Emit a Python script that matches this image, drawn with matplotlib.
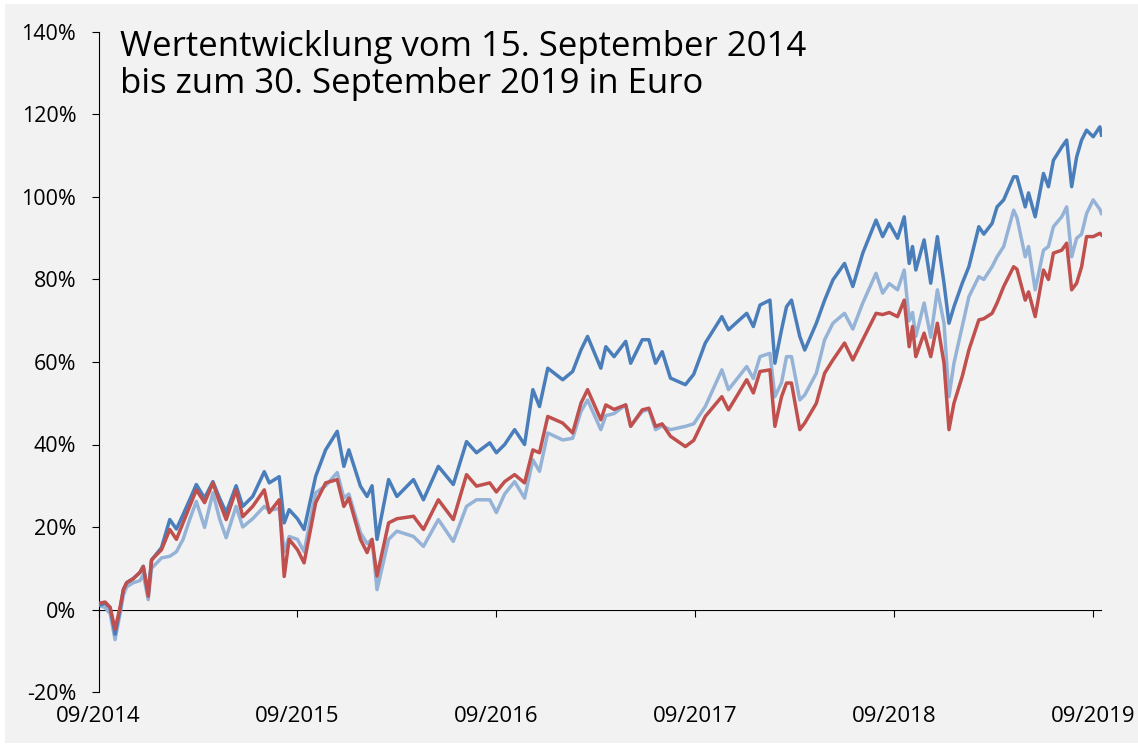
import numpy as np
import matplotlib
matplotlib.use("Agg")
import matplotlib.pyplot as plt
import matplotlib.ticker as mtick
from matplotlib.patches import Rectangle

# months since 15 Sep 2014
months = [0, 0.4, 0.7, 1.0, 1.3, 1.5, 1.7, 2.1, 2.5, 2.7, 3.0, 3.2, 3.8, 4.3, 4.7, 5.1, 5.5, 5.9, 6.4, 6.9,
          7.3, 7.7, 8.3, 8.7, 9.3, 10.0, 10.3, 10.9, 11.2, 11.5, 12.0, 12.4, 13.1, 13.7, 14.4, 14.8, 15.1, 15.8, 16.2, 16.5,
          16.8, 17.5, 18.0, 19.0, 19.6, 20.5, 21.4, 22.2, 22.8, 23.6, 24.0, 24.5, 25.1, 25.7, 26.2, 26.6, 27.1, 28.0, 28.6, 29.1,
          29.5, 30.3, 30.6, 31.1, 31.8, 32.1, 32.8, 33.2, 33.6, 34.0, 34.5, 35.4, 35.9, 36.6, 37.6, 38.0, 39.1, 39.5, 39.9, 40.5,
          40.8, 41.2, 41.5, 41.8, 42.3, 42.6, 43.3, 43.8, 44.3, 45.0, 45.5, 46.1, 46.9, 47.3, 47.7, 48.2, 48.6, 48.9, 49.1, 49.3,
          49.8, 50.2, 50.6, 51.0, 51.3, 51.6, 52.1, 52.5, 53.1, 53.4, 53.9, 54.2, 54.6, 55.2, 55.4, 55.9, 56.1, 56.5, 57.0, 57.3,
          57.6, 58.1, 58.4, 58.7, 59.0, 59.3, 59.6, 60.0, 60.4, 60.5]

dark_blue = [1.0, 1.5, 0.5, -6, 0, 4.8, 6.5, 7.5, 9, 10.5, 4, 12, 15, 21.8, 19.5, 23, 26.6, 30.3, 27, 31,
             27, 23.5, 30, 25, 27.4, 33.4, 30.7, 32.2, 21, 24.2, 22, 19.4, 32.3, 38.7, 43.2, 34.7, 38.7, 29.9, 27.4, 30,
             17, 31.5, 27.4, 31.5, 26.6, 34.7, 30.3, 40.7, 38, 40.4, 38, 40, 43.6, 40, 53.3, 49.2, 58.5, 55.7, 57.7, 62.9,
             66.2, 58.5, 63.7, 61.3, 65, 59.7, 65.4, 65.4, 59.7, 62.5, 56.1, 54.5, 57, 64.6, 71, 67.8, 71.8, 68.6, 73.8, 75,
             59.7, 67.8, 73.4, 75, 66.2, 62.9, 69.4, 75, 79.9, 83.9, 78.3, 86.4, 94.4, 90.4, 93.6, 90, 95.2, 83.9, 88, 82.3,
             89.6, 79.1, 90.4, 79.1, 69.4, 73.4, 79.1, 83.1, 92.8, 91, 93.6, 97.6, 99.3, 104.9, 104.9, 97.6, 101, 95.2, 105.7, 102.5,
             108.9, 112.1, 113.8, 102.5, 109.7, 113.8, 116.2, 114.6, 117, 115]

light_blue = [1.0, 0.5, -1, -7.3, -1, 3.5, 5.5, 6.5, 7, 8.5, 2.4, 10, 12.5, 12.9, 14, 17, 21.8, 26.2, 19.9, 28.3,
              22, 17.4, 25, 20, 22, 25, 24, 24.5, 14, 17.7, 17, 14, 28.3, 30, 33.2, 27, 28, 18.6, 16, 17,
              4.8, 17, 19, 17.7, 15.3, 21.8, 16.5, 25, 26.6, 26.6, 23.5, 28, 31, 27, 36.3, 33.5, 42.8, 41.1, 41.5, 48,
              50.8, 43.6, 47, 47.5, 49.6, 44.5, 48, 48.5, 43.6, 44.5, 43.6, 44.4, 45, 49.2, 58.1, 53.3, 58.9, 56, 61.3, 62.1,
              51.6, 55, 61.3, 61.3, 50.8, 52, 57.3, 65.4, 69.4, 71.8, 68, 74.3, 81.5, 76.7, 79, 77.5, 82.3, 70, 72, 66.2,
              74.3, 66, 77.5, 69.4, 51.6, 59.7, 68.6, 75.8, 80.7, 80, 83.1, 85.5, 88, 96.8, 95, 85.5, 88, 77.5, 87.1, 88,
              92.8, 95.2, 97.6, 85.5, 90, 91, 96, 99.3, 97, 96]

red = [1.5, 1.8, 0.5, -4.8, 0.5, 4.8, 6.5, 7.5, 9, 10.4, 3.2, 12, 14.5, 19.4, 17, 21, 25, 29, 25.9, 30.7,
       26, 21.8, 29, 22.5, 25, 29, 23.5, 26.6, 8, 17, 14.5, 11.3, 25.9, 30.7, 31.5, 25, 27, 17, 13.8, 17,
       8.1, 21, 22, 22.6, 19.4, 26.6, 21.8, 32.7, 29.9, 30.7, 28.5, 31, 32.7, 30.7, 38.7, 38, 46.8, 45.2, 42.8, 50,
       53.3, 46, 49.6, 48.5, 49.6, 44.4, 48.4, 48.8, 44.4, 45, 42, 39.5, 41, 46.8, 51.6, 48.4, 55.7, 52.5, 57.7, 58.1,
       44.4, 51.6, 54.9, 54.9, 43.6, 45.2, 50, 57.3, 60.5, 64.6, 60.5, 65.4, 71.8, 71.5, 72, 71, 75, 63.7, 68.6, 61.3,
       67, 61.3, 69.4, 59.7, 43.6, 50, 56.5, 62.9, 70.2, 70.5, 71.8, 74.3, 78.3, 83.1, 82.5, 75, 77, 71, 82.3, 80,
       86.4, 87.1, 88.8, 77.5, 79.1, 83.1, 90.4, 90.4, 91.2, 90.8]

tick_months = [0, 12, 24, 36, 48, 60]
tick_labels = ['09/2014', '09/2015', '09/2016', '09/2017', '09/2018', '09/2019']

plt.rcParams['font.family'] = ['Open Sans', 'DejaVu Sans']

fig = plt.figure(figsize=(11.38, 7.45), dpi=100)
fig.patch.set_facecolor('white')
# grey panel with thin white frame
fig.patches.append(Rectangle((5 / 1138, 2 / 745), 1, 1 - 6 / 745, transform=fig.transFigure,
                             facecolor='#f2f2f2', edgecolor='none', zorder=-1))

ax = fig.add_axes([98.5 / 1138, 1 - 692 / 745, (1101.5 - 98.5) / 1138, (692 - 32) / 745])
ax.set_facecolor('none')

ax.plot(months, light_blue, color='#95b3d7', linewidth=2.5, zorder=2)
ax.plot(months, dark_blue, color='#4a7ebb', linewidth=2.5, zorder=3)
ax.plot(months, red, color='#c0504d', linewidth=2.5, zorder=4)

ax.set_xlim(0, 60.5)
ax.set_ylim(-20, 140)
ax.yaxis.set_major_locator(mtick.MultipleLocator(20))
ax.yaxis.set_major_formatter(mtick.FormatStrFormatter('%d%%'))

for s in ['top', 'right', 'bottom']:
  ax.spines[s].set_visible(False)
ax.spines['left'].set_linewidth(0.8)
ax.tick_params(axis='y', direction='out', length=5, width=0.8, pad=11, labelsize=15.5, colors='black')

ax.set_xticks(tick_months)
ax.set_xticklabels(tick_labels)
ax.tick_params(axis='x', length=0, pad=10, labelsize=16)

# zero line with the year ticks
zero = ax.secondary_xaxis(20 / 160)
zero.set_xticks(tick_months)
zero.tick_params(axis='x', direction='out', length=5, width=0.8, labelbottom=False, labeltop=False)
zero.spines['bottom'].set_linewidth(0.8)

fig.text(120 / 1138, 1 - 30 / 745, 'Wertentwicklung vom 15. September 2014\nbis zum 30. September 2019 in Euro',
         fontsize=25, va='top', ha='left', linespacing=1.12)

plt.savefig('out.png', dpi=100, facecolor=fig.get_facecolor())
